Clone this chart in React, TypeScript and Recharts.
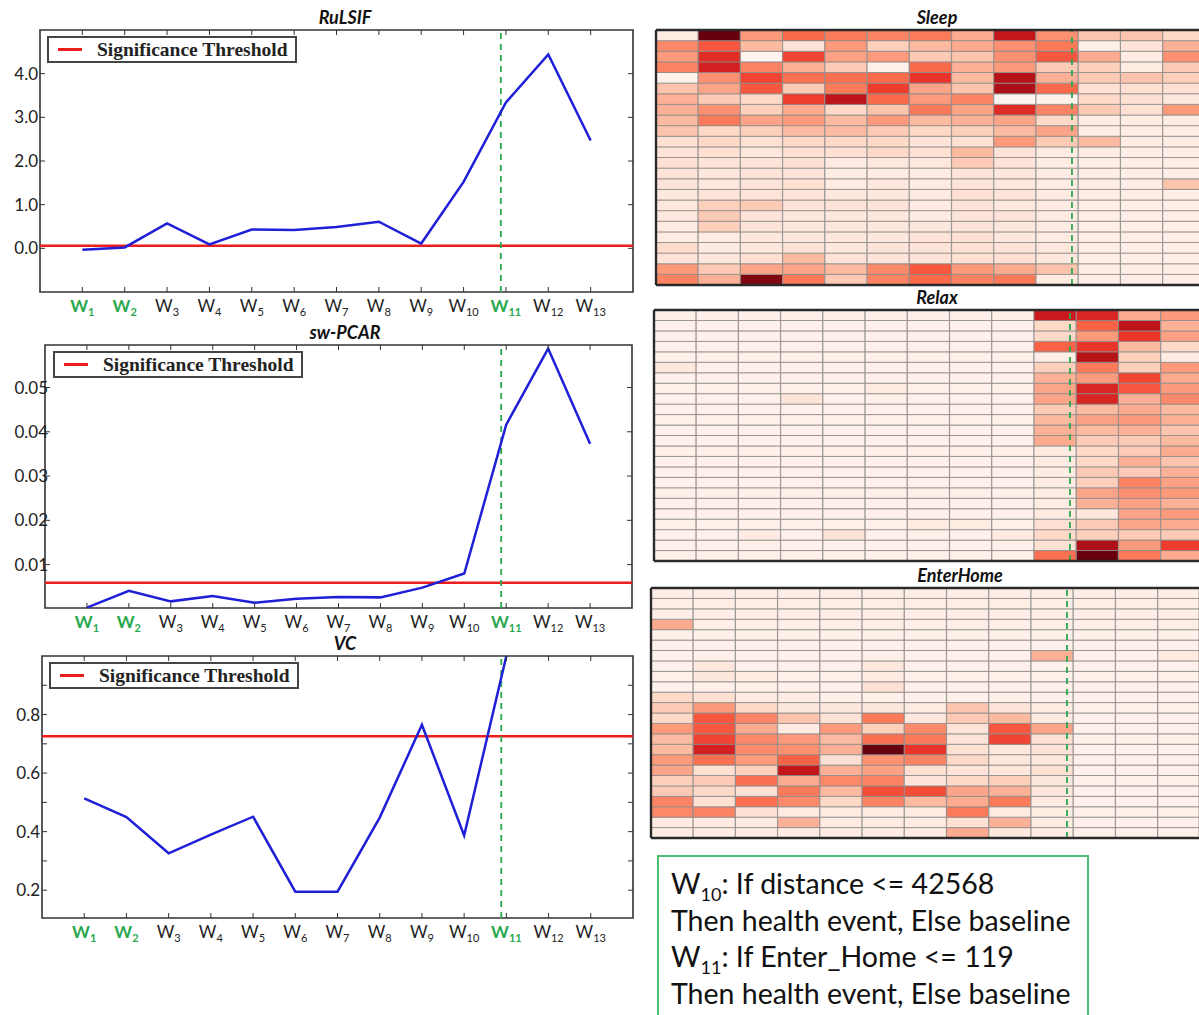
import { LineChart, Line, XAxis, YAxis, ReferenceLine, ReferenceArea, BarChart, Bar, Cell } from "recharts";

const weeks = [1, 2, 3, 4, 5, 6, 7, 8, 9, 10, 11, 12, 13];
const greenWeeks = [1, 2, 11];
const eventLineX = 10.88;
const heatEventX = 9.85;

const rulsifValues = [-0.03, 0.02, 0.57, 0.09, 0.43, 0.42, 0.49, 0.61, 0.11, 1.52, 3.34, 4.44, 2.47];
const rulsifThreshold = 0.06;
const rulsifTicks = [0, 1, 2, 3, 4];
const rulsifTickLabels = ["0.0", "1.0", "2.0", "3.0", "4.0"];

const pcarValues = [0.0003, 0.0041, 0.0017, 0.0029, 0.0014, 0.0023, 0.0027, 0.0026, 0.0048, 0.008, 0.0416, 0.0588, 0.0373];
const pcarThreshold = 0.0059;
const pcarTicks = [0.01, 0.02, 0.03, 0.04, 0.05];
const pcarTickLabels = ["0.01", "0.02", "0.03", "0.04", "0.05"];

const vcValues = [0.514, 0.45, 0.326, 0.39, 0.451, 0.195, 0.195, 0.448, 0.765, 0.387, 1.0, null, null];
const vcThreshold = 0.726;
const vcTicks = [0.2, 0.3, 0.4, 0.5, 0.6, 0.7, 0.8, 0.9];
const vcTickLabels = ["0.2", "", "0.4", "", "0.6", "", "0.8", ""];

// heatmaps: 24 rows (top to bottom) x 13 windows
const sleepCells = [
  [0.05, 1.0, 0.35, 0.5, 0.45, 0.42, 0.45, 0.3, 0.78, 0.38, 0.22, 0.22, 0.15],
  [0.4, 0.55, 0.25, 0.1, 0.35, 0.18, 0.25, 0.3, 0.38, 0.45, 0.03, 0.1, 0.28],
  [0.35, 0.68, 0.0, 0.6, 0.33, 0.35, 0.2, 0.22, 0.38, 0.55, 0.3, 0.05, 0.38],
  [0.42, 0.72, 0.42, 0.28, 0.2, 0.03, 0.5, 0.28, 0.35, 0.2, 0.18, 0.05, 0.2],
  [0.02, 0.38, 0.6, 0.48, 0.48, 0.5, 0.65, 0.25, 0.82, 0.28, 0.2, 0.22, 0.18],
  [0.22, 0.32, 0.55, 0.2, 0.45, 0.62, 0.32, 0.22, 0.85, 0.5, 0.12, 0.12, 0.12],
  [0.28, 0.2, 0.15, 0.62, 0.8, 0.5, 0.35, 0.42, 0.0, 0.02, 0.15, 0.12, 0.08],
  [0.28, 0.38, 0.18, 0.3, 0.15, 0.22, 0.45, 0.32, 0.68, 0.42, 0.2, 0.12, 0.35],
  [0.25, 0.45, 0.32, 0.35, 0.25, 0.35, 0.25, 0.28, 0.32, 0.15, 0.05, 0.05, 0.05],
  [0.22, 0.15, 0.18, 0.25, 0.25, 0.2, 0.15, 0.18, 0.25, 0.32, 0.05, 0.05, 0.05],
  [0.12, 0.15, 0.12, 0.15, 0.15, 0.15, 0.1, 0.12, 0.35, 0.2, 0.25, 0.05, 0.05],
  [0.1, 0.12, 0.08, 0.12, 0.12, 0.15, 0.12, 0.25, 0.1, 0.05, 0.05, 0.04, 0.04],
  [0.12, 0.1, 0.1, 0.12, 0.06, 0.08, 0.08, 0.2, 0.1, 0.05, 0.04, 0.04, 0.04],
  [0.1, 0.08, 0.1, 0.1, 0.05, 0.06, 0.06, 0.1, 0.08, 0.05, 0.04, 0.04, 0.04],
  [0.1, 0.08, 0.1, 0.12, 0.06, 0.08, 0.06, 0.1, 0.08, 0.05, 0.04, 0.04, 0.22],
  [0.08, 0.1, 0.1, 0.1, 0.08, 0.08, 0.06, 0.12, 0.1, 0.06, 0.04, 0.04, 0.04],
  [0.08, 0.18, 0.2, 0.1, 0.1, 0.1, 0.06, 0.1, 0.08, 0.06, 0.04, 0.04, 0.04],
  [0.08, 0.2, 0.1, 0.08, 0.08, 0.08, 0.06, 0.1, 0.1, 0.06, 0.04, 0.04, 0.04],
  [0.06, 0.18, 0.1, 0.08, 0.08, 0.08, 0.08, 0.1, 0.08, 0.06, 0.04, 0.04, 0.04],
  [0.06, 0.06, 0.08, 0.08, 0.08, 0.08, 0.1, 0.12, 0.08, 0.06, 0.04, 0.04, 0.04],
  [0.14, 0.06, 0.08, 0.1, 0.08, 0.1, 0.1, 0.12, 0.1, 0.08, 0.04, 0.04, 0.04],
  [0.1, 0.08, 0.12, 0.25, 0.1, 0.1, 0.1, 0.12, 0.12, 0.08, 0.04, 0.04, 0.04],
  [0.35, 0.2, 0.32, 0.32, 0.25, 0.4, 0.55, 0.35, 0.3, 0.22, 0.04, 0.04, 0.04],
  [0.42, 0.28, 0.95, 0.45, 0.2, 0.42, 0.5, 0.42, 0.45, 0.06, 0.04, 0.04, 0.04],
];

const relaxCells = [
  [0.03, 0.03, 0.03, 0.03, 0.03, 0.03, 0.03, 0.03, 0.03, 0.75, 0.7, 0.3, 0.35],
  [0.03, 0.03, 0.03, 0.03, 0.03, 0.03, 0.03, 0.03, 0.03, 0.15, 0.52, 0.8, 0.28],
  [0.03, 0.03, 0.03, 0.03, 0.03, 0.03, 0.03, 0.03, 0.03, 0.15, 0.35, 0.65, 0.33],
  [0.03, 0.03, 0.03, 0.03, 0.03, 0.03, 0.03, 0.03, 0.03, 0.52, 0.65, 0.25, 0.15],
  [0.03, 0.03, 0.03, 0.03, 0.03, 0.03, 0.03, 0.03, 0.03, 0.04, 0.82, 0.18, 0.06],
  [0.08, 0.03, 0.03, 0.03, 0.03, 0.03, 0.03, 0.03, 0.03, 0.18, 0.45, 0.18, 0.35],
  [0.03, 0.03, 0.03, 0.03, 0.03, 0.03, 0.03, 0.03, 0.03, 0.28, 0.35, 0.6, 0.3],
  [0.03, 0.03, 0.03, 0.03, 0.03, 0.06, 0.03, 0.03, 0.03, 0.32, 0.7, 0.55, 0.35],
  [0.03, 0.03, 0.03, 0.1, 0.03, 0.03, 0.03, 0.03, 0.03, 0.32, 0.7, 0.28, 0.4],
  [0.03, 0.03, 0.03, 0.03, 0.03, 0.03, 0.03, 0.03, 0.03, 0.2, 0.25, 0.3, 0.25],
  [0.03, 0.03, 0.03, 0.03, 0.03, 0.03, 0.03, 0.03, 0.03, 0.25, 0.33, 0.35, 0.28],
  [0.03, 0.03, 0.03, 0.03, 0.03, 0.03, 0.03, 0.03, 0.03, 0.28, 0.25, 0.28, 0.22],
  [0.03, 0.03, 0.03, 0.03, 0.03, 0.03, 0.03, 0.03, 0.03, 0.3, 0.2, 0.2, 0.25],
  [0.03, 0.03, 0.03, 0.03, 0.03, 0.03, 0.03, 0.03, 0.03, 0.06, 0.15, 0.2, 0.3],
  [0.03, 0.03, 0.03, 0.03, 0.03, 0.03, 0.03, 0.03, 0.03, 0.06, 0.15, 0.28, 0.22],
  [0.03, 0.03, 0.03, 0.03, 0.03, 0.03, 0.03, 0.03, 0.03, 0.05, 0.2, 0.2, 0.28],
  [0.03, 0.03, 0.03, 0.03, 0.03, 0.03, 0.03, 0.03, 0.03, 0.05, 0.18, 0.42, 0.33],
  [0.03, 0.03, 0.03, 0.03, 0.03, 0.03, 0.03, 0.03, 0.03, 0.05, 0.32, 0.38, 0.35],
  [0.03, 0.03, 0.03, 0.03, 0.03, 0.03, 0.03, 0.03, 0.03, 0.05, 0.28, 0.33, 0.28],
  [0.03, 0.03, 0.03, 0.03, 0.03, 0.03, 0.03, 0.03, 0.03, 0.06, 0.08, 0.32, 0.35],
  [0.03, 0.03, 0.03, 0.03, 0.03, 0.03, 0.06, 0.05, 0.03, 0.12, 0.2, 0.32, 0.3],
  [0.03, 0.03, 0.06, 0.03, 0.1, 0.03, 0.03, 0.03, 0.06, 0.15, 0.18, 0.2, 0.2],
  [0.03, 0.03, 0.03, 0.03, 0.03, 0.03, 0.03, 0.03, 0.03, 0.12, 0.85, 0.35, 0.62],
  [0.03, 0.03, 0.03, 0.03, 0.03, 0.03, 0.03, 0.03, 0.03, 0.48, 1.0, 0.45, 0.3],
];

const enterHomeCells = [
  [0.04, 0.04, 0.04, 0.04, 0.04, 0.04, 0.04, 0.04, 0.04, 0.04, 0.04, 0.04, 0.04],
  [0.04, 0.04, 0.04, 0.04, 0.04, 0.04, 0.04, 0.04, 0.04, 0.04, 0.04, 0.04, 0.04],
  [0.04, 0.04, 0.04, 0.04, 0.04, 0.04, 0.04, 0.04, 0.04, 0.04, 0.04, 0.04, 0.04],
  [0.3, 0.04, 0.04, 0.04, 0.04, 0.04, 0.04, 0.04, 0.04, 0.04, 0.04, 0.04, 0.04],
  [0.03, 0.03, 0.03, 0.03, 0.03, 0.03, 0.03, 0.03, 0.03, 0.03, 0.03, 0.03, 0.03],
  [0.03, 0.03, 0.03, 0.03, 0.03, 0.03, 0.03, 0.03, 0.03, 0.03, 0.03, 0.03, 0.03],
  [0.03, 0.03, 0.03, 0.03, 0.03, 0.03, 0.03, 0.03, 0.03, 0.28, 0.03, 0.03, 0.06],
  [0.03, 0.08, 0.03, 0.03, 0.03, 0.08, 0.03, 0.03, 0.03, 0.03, 0.03, 0.03, 0.03],
  [0.03, 0.08, 0.06, 0.03, 0.03, 0.06, 0.03, 0.03, 0.03, 0.03, 0.03, 0.03, 0.03],
  [0.03, 0.03, 0.03, 0.03, 0.03, 0.12, 0.03, 0.03, 0.03, 0.03, 0.03, 0.03, 0.03],
  [0.15, 0.12, 0.06, 0.06, 0.03, 0.03, 0.03, 0.03, 0.03, 0.03, 0.03, 0.03, 0.03],
  [0.2, 0.35, 0.15, 0.08, 0.08, 0.08, 0.06, 0.22, 0.1, 0.06, 0.03, 0.03, 0.03],
  [0.15, 0.55, 0.42, 0.22, 0.1, 0.45, 0.08, 0.2, 0.25, 0.06, 0.03, 0.03, 0.03],
  [0.35, 0.55, 0.3, 0.06, 0.35, 0.18, 0.4, 0.1, 0.55, 0.32, 0.03, 0.03, 0.03],
  [0.25, 0.6, 0.4, 0.35, 0.25, 0.48, 0.45, 0.1, 0.6, 0.12, 0.03, 0.03, 0.03],
  [0.25, 0.72, 0.4, 0.38, 0.28, 1.0, 0.65, 0.12, 0.08, 0.1, 0.03, 0.03, 0.03],
  [0.35, 0.48, 0.35, 0.52, 0.12, 0.38, 0.42, 0.15, 0.08, 0.08, 0.03, 0.03, 0.03],
  [0.32, 0.12, 0.18, 0.78, 0.28, 0.33, 0.12, 0.1, 0.08, 0.12, 0.03, 0.03, 0.03],
  [0.18, 0.2, 0.48, 0.3, 0.4, 0.42, 0.1, 0.15, 0.18, 0.08, 0.03, 0.03, 0.03],
  [0.2, 0.15, 0.12, 0.45, 0.25, 0.58, 0.58, 0.32, 0.28, 0.08, 0.03, 0.03, 0.03],
  [0.42, 0.12, 0.48, 0.4, 0.15, 0.42, 0.25, 0.3, 0.45, 0.06, 0.03, 0.03, 0.03],
  [0.4, 0.42, 0.12, 0.06, 0.06, 0.06, 0.06, 0.45, 0.06, 0.05, 0.03, 0.03, 0.03],
  [0.06, 0.06, 0.06, 0.28, 0.06, 0.06, 0.06, 0.12, 0.28, 0.05, 0.03, 0.03, 0.03],
  [0.05, 0.05, 0.06, 0.06, 0.05, 0.05, 0.06, 0.3, 0.08, 0.05, 0.03, 0.03, 0.03],
];

const reds = ["#fff5f0", "#fee0d2", "#fcbba1", "#fc9272", "#fb6a4a", "#ef3b2c", "#cb181d", "#a50f15", "#67000d"];

function redsColor(t: number): string {
  const v = Math.max(0, Math.min(1, t)) * (reds.length - 1);
  const i = Math.min(Math.floor(v), reds.length - 2);
  const f = v - i;
  const a = parseInt(reds[i].slice(1), 16);
  const b = parseInt(reds[i + 1].slice(1), 16);
  const mix = (s: number) => Math.round(((a >> s) & 255) * (1 - f) + ((b >> s) & 255) * f);
  return `rgb(${mix(16)},${mix(8)},${mix(0)})`;
}

const FONT = "Lato, 'Open Sans', sans-serif";
const BLUE = "#1f1fd8";
const RED = "#ee1d1d";
const GREEN = "#2aa84e";
const FRAME = "#2a2a2a";

function WeekTick(props: any) {
  const { x, y, payload, plotHeight } = props;
  const n = payload.value;
  const green = greenWeeks.includes(n);
  return (
    <g>
      <line x1={x} x2={x} y1={y} y2={y - 5} stroke="#333" />
      <line x1={x} x2={x} y1={y - plotHeight} y2={y - plotHeight + 5} stroke="#333" />
      <text
        x={x}
        y={y + 20}
        textAnchor="middle"
        fontFamily={FONT}
        fontSize={17}
        fontWeight={green ? 700 : 400}
        fill={green ? GREEN : "#222"}
      >
        W
        <tspan fontSize={11} dy={4}>
          {n}
        </tspan>
      </text>
    </g>
  );
}

function ValueTick(props: any) {
  const { x, y, payload, plotWidth, labels, ticks, labelDx } = props;
  const label = labels[ticks.indexOf(payload.value)] ?? "";
  return (
    <g>
      <line x1={x} x2={x + 5} y1={y} y2={y} stroke="#333" />
      <line x1={x + plotWidth} x2={x + plotWidth - 5} y1={y} y2={y} stroke="#333" />
      <text x={x + labelDx} y={y + 6} textAnchor="end" fontFamily={FONT} fontSize={17} fill="#222">
        {label}
      </text>
    </g>
  );
}

interface PanelProps {
  title: string;
  values: (number | null)[];
  threshold: number;
  domain: [number, number];
  ticks: number[];
  tickLabels: string[];
  top: number;
  plotLeft: number;
  plotRight: number;
  plotHeight: number;
  labelDx: number;
  legendLeft: number;
}

function LinePanel(p: PanelProps) {
  const data = p.values.map((v, i) => ({ x: weeks[i], v }));
  const width = 640;
  const plotWidth = p.plotRight - p.plotLeft;
  return (
    <div style={{ position: "absolute", left: 0, top: p.top, width, height: p.plotHeight + 68 }}>
      <div style={{ ...styles.title, left: 345, top: 4 }}>{p.title}</div>
      <LineChart
        width={width}
        height={p.plotHeight + 68}
        data={data}
        margin={{ top: 30, right: width - p.plotRight, bottom: 8, left: 0 }}
      >
        <XAxis
          dataKey="x"
          type="number"
          domain={[0, 14]}
          ticks={weeks}
          allowDataOverflow
          height={30}
          axisLine={false}
          tickLine={false}
          tickSize={0}
          tickMargin={0}
          interval={0}
          tick={(t: any) => <WeekTick {...t} plotHeight={p.plotHeight} />}
        />
        <YAxis
          type="number"
          domain={p.domain}
          ticks={p.ticks}
          allowDataOverflow
          width={p.plotLeft}
          axisLine={false}
          tickLine={false}
          tickSize={0}
          tickMargin={0}
          interval={0}
          tick={(t: any) => (
            <ValueTick {...t} plotWidth={plotWidth} labels={p.tickLabels} ticks={p.ticks} labelDx={p.labelDx} />
          )}
        />
        <ReferenceArea x1={0} x2={14} y1={p.domain[0]} y2={p.domain[1]} fill="none" stroke="#333" strokeWidth={1.6} />
        <ReferenceLine y={p.threshold} stroke={RED} strokeWidth={2.5} />
        <ReferenceLine x={eventLineX} stroke={GREEN} strokeWidth={1.8} strokeDasharray="6 5" />
        <Line
          dataKey="v"
          type="linear"
          stroke={BLUE}
          strokeWidth={2.5}
          dot={false}
          isAnimationActive={false}
        />
      </LineChart>
      <div style={{ ...styles.legend, left: p.legendLeft, top: 36 }}>
        <span style={styles.legendSwatch} />
        <span>Significance Threshold</span>
      </div>
    </div>
  );
}

interface HeatProps {
  title: string;
  cells: number[][];
  left: number;
  top: number;
  plotWidth: number;
  plotHeight: number;
  titleX: number;
}

function HeatPanel(p: HeatProps) {
  const rows = p.cells.length;
  const cols = p.cells[0].length;
  const data = weeks.slice(0, cols).map((w, c) => {
    const d: Record<string, number> = { w, pos: c + 0.5 };
    p.cells.forEach((_, r) => (d[`r${r}`] = 1));
    return d;
  });
  // first stacked bar sits at the bottom
  const order = p.cells.map((_, r) => rows - 1 - r);
  return (
    <>
      <div style={{ ...styles.title, left: p.titleX, top: p.top - 26 }}>{p.title}</div>
      <div style={{ position: "absolute", left: p.left - 2, top: p.top - 2 }}>
        <BarChart
          width={p.plotWidth + 4}
          height={p.plotHeight + 4}
          data={data}
          margin={{ top: 2, right: 2, bottom: 2, left: 2 }}
          barCategoryGap={0}
          barGap={0}
        >
          <XAxis dataKey="w" hide />
          <XAxis xAxisId="pos" dataKey="pos" type="number" domain={[0, cols]} allowDataOverflow hide />
          <YAxis type="number" domain={[0, rows]} allowDataOverflow hide />
          {order.map((r) => (
            <Bar key={r} dataKey={`r${r}`} stackId="h" stroke="#8a8a8a" strokeWidth={0.8} isAnimationActive={false}>
              {data.map((_, c) => (
                <Cell key={c} fill={redsColor(p.cells[r][c])} />
              ))}
            </Bar>
          ))}
          <ReferenceLine xAxisId="pos" x={heatEventX} stroke={GREEN} strokeWidth={1.8} strokeDasharray="6 5" />
          <ReferenceLine xAxisId="pos" x={0} stroke={FRAME} strokeWidth={2.4} />
          <ReferenceLine xAxisId="pos" x={cols} stroke={FRAME} strokeWidth={2.4} />
          <ReferenceLine xAxisId="pos" y={0} stroke={FRAME} strokeWidth={2.4} />
          <ReferenceLine xAxisId="pos" y={rows} stroke={FRAME} strokeWidth={2.4} />
        </BarChart>
      </div>
    </>
  );
}

export default function App() {
  return (
    <div style={styles.page}>
      <LinePanel
        title="RuLSIF"
        values={rulsifValues}
        threshold={rulsifThreshold}
        domain={[-1, 5]}
        ticks={rulsifTicks}
        tickLabels={rulsifTickLabels}
        top={0}
        plotLeft={40}
        plotRight={633}
        plotHeight={262}
        labelDx={-2}
        legendLeft={47}
      />
      <LinePanel
        title="sw-PCAR"
        values={pcarValues}
        threshold={pcarThreshold}
        domain={[0.0002, 0.0596]}
        ticks={pcarTicks}
        tickLabels={pcarTickLabels}
        top={315}
        plotLeft={45}
        plotRight={632}
        plotHeight={263}
        labelDx={3}
        legendLeft={53}
      />
      <LinePanel
        title="VC"
        values={vcValues}
        threshold={vcThreshold}
        domain={[0.105, 1.0]}
        ticks={vcTicks}
        tickLabels={vcTickLabels}
        top={626}
        plotLeft={42}
        plotRight={633}
        plotHeight={262}
        labelDx={-2}
        legendLeft={49}
      />
      <HeatPanel title="Sleep" cells={sleepCells} left={656} top={30} plotWidth={549} plotHeight={255} titleX={937} />
      <HeatPanel title="Relax" cells={relaxCells} left={654} top={310} plotWidth={549} plotHeight={251} titleX={937} />
      <HeatPanel title="EnterHome" cells={enterHomeCells} left={651} top={588} plotWidth={549} plotHeight={250} titleX={960} />
      <div style={styles.rules}>
        <div>
          W<sub style={styles.sub}>10</sub>: If distance &lt;= 42568
        </div>
        <div>Then health event, Else baseline</div>
        <div>
          W<sub style={styles.sub}>11</sub>: If Enter_Home &lt;= 119
        </div>
        <div>Then health event, Else baseline</div>
      </div>
    </div>
  );
}

const styles: Record<string, React.CSSProperties> = {
  page: {
    position: "absolute",
    left: 0,
    top: 0,
    width: 1199,
    height: 1015,
    overflow: "hidden",
    background: "#fff",
  },
  title: {
    position: "absolute",
    transform: "translateX(-50%)",
    fontFamily: FONT,
    fontSize: 18,
    fontWeight: 700,
    fontStyle: "italic",
    color: "#111",
    whiteSpace: "nowrap",
    lineHeight: "26px",
  },
  legend: {
    position: "absolute",
    width: 246,
    height: 23,
    border: "2px solid #444",
    background: "#fff",
    display: "flex",
    alignItems: "center",
    fontFamily: "'Liberation Serif', serif",
    fontWeight: 700,
    fontSize: 19.5,
    color: "#222",
    boxSizing: "content-box",
    whiteSpace: "nowrap",
  },
  legendSwatch: {
    display: "inline-block",
    width: 24,
    height: 2.5,
    background: RED,
    marginLeft: 9,
    marginRight: 15,
  },
  rules: {
    position: "absolute",
    left: 657,
    top: 855,
    width: 416,
    height: 200,
    border: "2px solid #4cbf72",
    padding: "8px 0 0 12px",
    fontFamily: FONT,
    fontSize: 28.5,
    lineHeight: "36.7px",
    color: "#111",
  },
  sub: {
    fontSize: 18,
    lineHeight: 0,
  },
};
